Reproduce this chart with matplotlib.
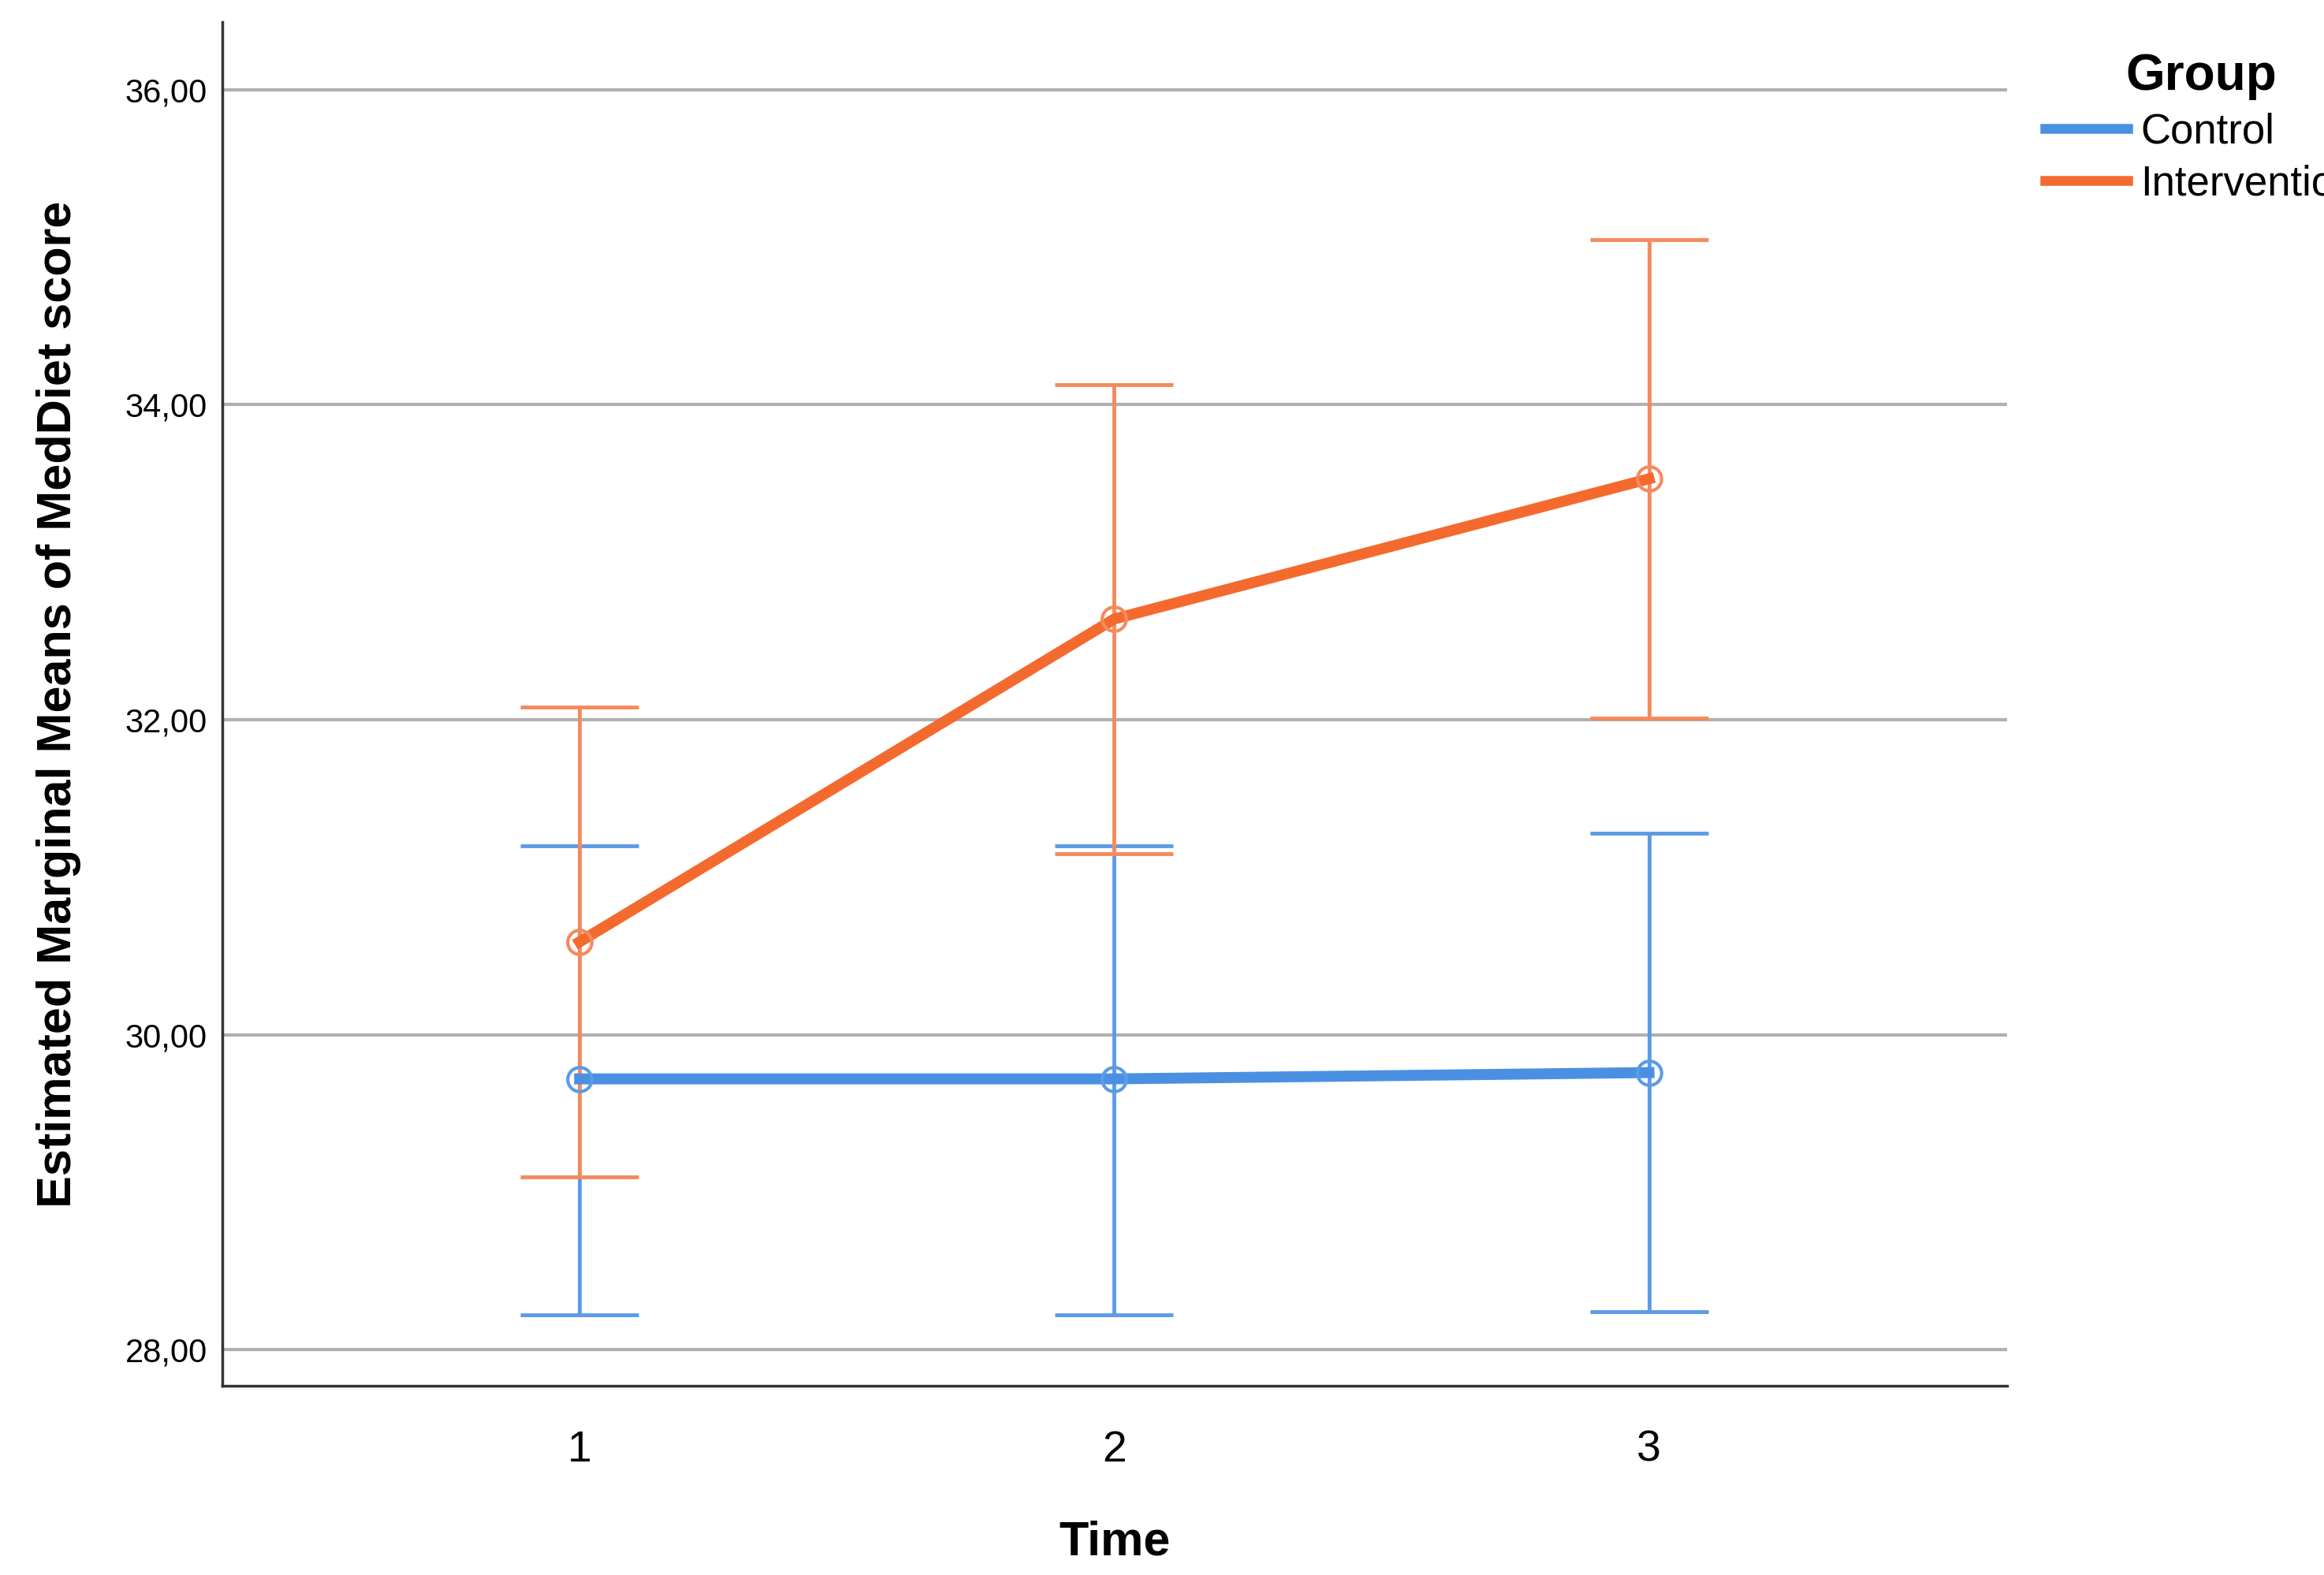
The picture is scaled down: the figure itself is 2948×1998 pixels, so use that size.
import matplotlib.pyplot as plt
import matplotlib.ticker as mticker

plt.rcParams['font.family'] = ['Liberation Sans', 'DejaVu Sans']

time = [1, 2, 3]
control_mean = [29.72, 29.72, 29.76]
control_low = [28.22, 28.22, 28.24]
control_high = [31.20, 31.20, 31.28]
interv_mean = [30.59, 32.64, 33.53]
interv_low = [29.10, 31.15, 32.01]
interv_high = [32.08, 34.13, 35.05]

blue = '#4a90e2'
orange = '#f46a2e'
blue_light = '#5b9be6'
orange_light = '#f58a5c'

fig = plt.figure(figsize=(29.48, 19.98), dpi=100)
ax = fig.add_axes([0.0957, 0.120, 0.768, 0.866])

for m, lo, hi, c, cl, lab in [(control_mean, control_low, control_high, blue, blue_light, 'Control'),
                             (interv_mean, interv_low, interv_high, orange, orange_light, 'Intervention')]:
    err = [[a - b for a, b in zip(m, lo)], [b - a for a, b in zip(m, hi)]]
    ax.errorbar(time, m, yerr=err, fmt='none', ecolor=cl, elinewidth=3.5,
                capsize=54, capthick=3.5, zorder=3)
    ax.plot(time, m, color=c, lw=10, label=lab, zorder=4)
    ax.plot(time, m, 'o', ms=22, mfc='none', mec=cl, mew=3, zorder=5)

ax.set_xlim(0.332, 3.67)
ax.set_ylim(27.77, 36.43)
ax.set_xticks(time)
ax.set_yticks([28, 30, 32, 34, 36])
ax.yaxis.set_major_formatter(mticker.FuncFormatter(lambda v, p: f'{v:.2f}'.replace('.', ',')))
ax.grid(axis='y', color='#b0b0b0', lw=3)
ax.set_axisbelow(True)
for s in ['top', 'right']:
    ax.spines[s].set_visible(False)
for s in ['left', 'bottom']:
    ax.spines[s].set_linewidth(2.5)
    ax.spines[s].set_color('#333333')
ax.tick_params(axis='y', labelsize=30, length=0, pad=14)
ax.tick_params(axis='x', labelsize=40, length=0, pad=40)
ax.set_xlabel('Time', fontsize=44, fontweight='bold', labelpad=45)
ax.set_ylabel('Estimated Marginal Means of MedDiet score', fontsize=44,
              fontweight='bold', labelpad=40)

leg = ax.legend(title='Group', loc='upper left', bbox_to_anchor=(1.0, 1.005),
                frameon=False, fontsize=38, title_fontsize=46, handlelength=2.0,
                handletextpad=0.3, labelspacing=0.3)
leg.get_title().set_fontweight('bold')
for line in leg.get_lines():
    line.set_linewidth(9)

fig.savefig('out.png')
